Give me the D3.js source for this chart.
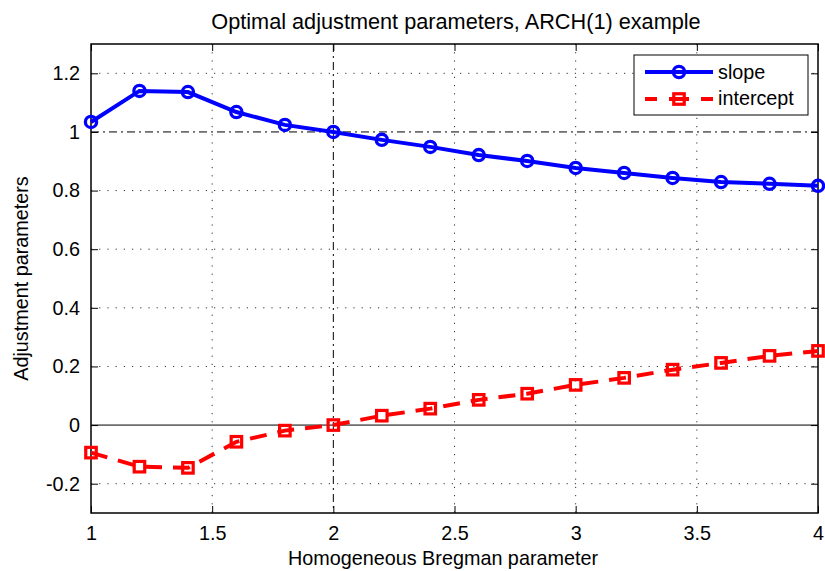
<!DOCTYPE html>
<html>
<head>
<meta charset="utf-8">
<script src="https://cdn.jsdelivr.net/npm/d3@7"></script>
<style>
  body { margin: 0; background: #fff; }
  text { font-family: "Liberation Sans", Arial, sans-serif; fill: #000; }
</style>
</head>
<body>
<div id="chart"></div>
<script>
const xValues = [1, 1.2, 1.4, 1.6, 1.8, 2, 2.2, 2.4, 2.6, 2.8, 3, 3.2, 3.4, 3.6, 3.8, 4];
const slope = [1.034, 1.14, 1.136, 1.068, 1.024, 1.0, 0.973, 0.949, 0.921, 0.901, 0.877, 0.860, 0.843, 0.829, 0.823, 0.816];
const intercept = [-0.094, -0.142, -0.146, -0.057, -0.019, 0.0, 0.032, 0.056, 0.086, 0.107, 0.137, 0.161, 0.189, 0.212, 0.236, 0.253];
const xTicks = [1, 1.5, 2, 2.5, 3, 3.5, 4];
const yTicks = [-0.2, 0, 0.2, 0.4, 0.6, 0.8, 1, 1.2];

const width = 825, height = 571;
const margin = { top: 44, right: 7, bottom: 58, left: 91 };
const w = width - margin.left - margin.right,
      h = height - margin.top - margin.bottom;
const fs = '19.8px';

const svg = d3.select('#chart').append('svg')
  .attr('width', width)
  .attr('height', height);

const g = svg.append('g')
  .attr('transform', 'translate(' + margin.left + ',' + margin.top + ')');

const x = d3.scaleLinear().domain([1, 4]).range([0, w]);
const y = d3.scaleLinear().domain([-0.3, 1.3]).range([h, 0]);

// grid, dotted
const grid = g.append('g').attr('stroke', '#333').attr('stroke-width', 1).attr('stroke-dasharray', '1.2,7');
grid.selectAll('.gx').data(xTicks.slice(1, -1).filter(d => d !== 2)).enter().append('line')
  .attr('x1', d => x(d)).attr('x2', d => x(d)).attr('y1', 0).attr('y2', h);
grid.selectAll('.gy').data(yTicks.filter(d => d !== 0 && d !== 1)).enter().append('line')
  .attr('x1', 0).attr('x2', w).attr('y1', d => y(d)).attr('y2', d => y(d));

// reference lines
g.append('line').attr('x1', 0).attr('x2', w).attr('y1', y(0)).attr('y2', y(0))
  .attr('stroke', '#000').attr('stroke-width', 1);
g.append('line').attr('x1', 0).attr('x2', w).attr('y1', y(1)).attr('y2', y(1))
  .attr('stroke', '#000').attr('stroke-width', 1).attr('stroke-dasharray', '8,4,2,4');
g.append('line').attr('x1', x(2)).attr('x2', x(2)).attr('y1', 0).attr('y2', h)
  .attr('stroke', '#000').attr('stroke-width', 1).attr('stroke-dasharray', '8,4,2,4');

// axes (inward ticks on all sides)
const tk = 7;
const xb = g.append('g').attr('transform', 'translate(0,' + h + ')')
  .call(d3.axisBottom(x).tickValues(xTicks).tickSize(-tk).tickPadding(13).tickFormat(d3.format('')));
const xt = g.append('g')
  .call(d3.axisTop(x).tickValues(xTicks).tickSize(-tk).tickFormat(''));
const yl = g.append('g')
  .call(d3.axisLeft(y).tickValues(yTicks).tickSize(-tk).tickPadding(11).tickFormat(d => String(+d.toFixed(1))));
const yr = g.append('g').attr('transform', 'translate(' + w + ',0)')
  .call(d3.axisRight(y).tickValues(yTicks).tickSize(-tk).tickFormat(''));
[xb, xt, yl, yr].forEach(a => {
  a.select('.domain').remove();
  a.selectAll('line').attr('stroke', '#000');
  a.selectAll('text').style('font-size', fs).attr('fill', '#000');
});

g.append('rect').attr('width', w).attr('height', h)
  .attr('fill', 'none').attr('stroke', '#000').attr('stroke-width', 1.5);

// series
const slopeData = xValues.map((d, i) => [d, slope[i]]);
const intData = xValues.map((d, i) => [d, intercept[i]]);
const line = d3.line().x(d => x(d[0])).y(d => y(d[1]));
const r = 5.6, sq = 10.5;

g.append('path').datum(slopeData).attr('d', line)
  .attr('fill', 'none').attr('stroke', '#0000ff').attr('stroke-width', 4);
g.selectAll('.circ').data(slopeData).enter().append('circle')
  .attr('cx', d => x(d[0])).attr('cy', d => y(d[1])).attr('r', r)
  .attr('fill', 'none').attr('stroke', '#0000ff').attr('stroke-width', 3.3);

g.append('path').datum(intData).attr('d', line)
  .attr('fill', 'none').attr('stroke', '#ff0000').attr('stroke-width', 4)
  .attr('stroke-dasharray', '17,11');
g.selectAll('.sq').data(intData).enter().append('rect')
  .attr('x', d => x(d[0]) - sq / 2).attr('y', d => y(d[1]) - sq / 2)
  .attr('width', sq).attr('height', sq)
  .attr('fill', 'none').attr('stroke', '#ff0000').attr('stroke-width', 3.2);

// legend
const lg = svg.append('g').attr('transform', 'translate(634,55)');
lg.append('rect').attr('width', 174).attr('height', 60)
  .attr('fill', '#fff').attr('stroke', '#000').attr('stroke-width', 1);
lg.append('line').attr('x1', 11).attr('x2', 79).attr('y1', 17).attr('y2', 17)
  .attr('stroke', '#0000ff').attr('stroke-width', 4);
lg.append('circle').attr('cx', 45).attr('cy', 17).attr('r', r)
  .attr('fill', 'none').attr('stroke', '#0000ff').attr('stroke-width', 3.3);
lg.append('line').attr('x1', 11).attr('x2', 79).attr('y1', 44).attr('y2', 44)
  .attr('stroke', '#ff0000').attr('stroke-width', 4).attr('stroke-dasharray', '12,12,20,12,12');
lg.append('rect').attr('x', 45 - sq / 2).attr('y', 44 - sq / 2).attr('width', sq).attr('height', sq)
  .attr('fill', 'none').attr('stroke', '#ff0000').attr('stroke-width', 3.2);
lg.append('text').attr('x', 84).attr('y', 24).style('font-size', fs).text('slope');
lg.append('text').attr('x', 84).attr('y', 50).style('font-size', fs).text('intercept');

// labels
svg.append('text').attr('x', 456).attr('y', 29)
  .attr('text-anchor', 'middle').style('font-size', '21.7px')
  .text('Optimal adjustment parameters, ARCH(1) example');
svg.append('text').attr('x', 443).attr('y', 565)
  .attr('text-anchor', 'middle').style('font-size', fs)
  .text('Homogeneous Bregman parameter');
svg.append('text').attr('transform', 'translate(28,' + (margin.top + h / 2) + ') rotate(-90)')
  .attr('text-anchor', 'middle').style('font-size', fs)
  .text('Adjustment parameters');
</script>
</body>
</html>
